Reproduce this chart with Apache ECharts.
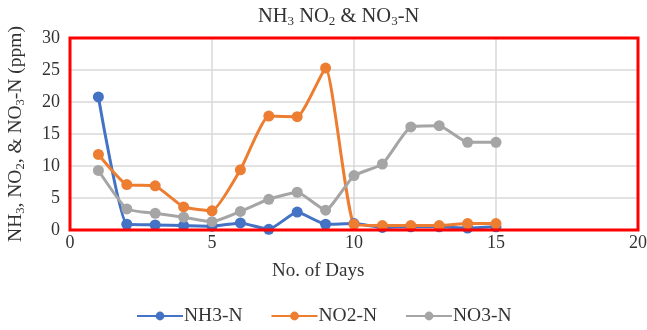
<!DOCTYPE html>
<html><head><meta charset="utf-8">
<script src="https://cdn.jsdelivr.net/npm/echarts@6/dist/echarts.min.js"></script>
<style>html,body{margin:0;padding:0;background:#fff}#c{width:647px;height:330px}</style>
</head><body><div id="c"></div>
<script>
const days = [1,2,3,4,5,6,7,8,9,10,11,12,13,14,15];
const nh3 = [20.8,0.9,0.8,0.7,0.6,1.1,0.1,2.8,0.9,1.0,0.4,0.5,0.5,0.3,0.5];
const no2 = [11.8,7.1,6.9,3.6,3.0,9.4,17.8,17.7,25.3,0.9,0.7,0.7,0.7,1.0,1.0];
const no3 = [9.3,3.3,2.6,2.0,1.3,2.9,4.8,5.9,3.1,8.5,10.3,16.1,16.3,13.7,13.7];
const seriesNames = ['NH3-N','NO2-N','NO3-N'];
const colors = ['#4472C4','#ED7D31','#A5A5A5'];
const FONT = '"Liberation Serif", "DejaVu Serif", serif';

const chart = echarts.init(document.getElementById('c'));
function mk(name, vals, color){
  return {
    name, type:'line', data: days.map((d,i)=>[d, vals[i]]),
    smooth: 0.15, symbol:'circle', symbolSize: 11,
    lineStyle:{color, width:3}, itemStyle:{color},
    emphasis:{disabled:true}, z:3
  };
}
chart.setOption({
  animation:false,
  grid:{left:70, right:9, top:38, bottom:100, show:false, containLabel:false, outerBoundsMode:'none'},
  xAxis:{type:'value', min:0, max:20, interval:5,
    axisLine:{show:false}, axisTick:{show:false},
    splitLine:{show:true, showMinLine:false, showMaxLine:false, lineStyle:{color:'#d9d9d9', width:1.5}},
    axisLabel:{fontFamily:FONT, fontSize:18, color:'#333', margin:4}},
  yAxis:{type:'value', min:0, max:30, interval:5,
    axisLine:{show:false}, axisTick:{show:false},
    splitLine:{show:true, showMinLine:false, showMaxLine:false, lineStyle:{color:'#d9d9d9', width:1.5}},
    axisLabel:{fontFamily:FONT, fontSize:18, color:'#333', margin:10},
    name:'{a|NH}{s|3}{a|, NO}{s|2}{a|, & NO}{s|3}{a|-N (ppm)}',
    nameLocation:'middle', nameGap:43, nameRotate:90,
    nameTextStyle:{rich:{a:{fontFamily:FONT, fontSize:19.5, color:'#333'}, s:{fontFamily:FONT, fontSize:12.5, color:'#333', padding:[10,0,0,0]}}}
  },
  legend:{top:306, left:136, padding:0, itemWidth:46, itemHeight:11, itemGap:28,
    data:seriesNames, textStyle:{fontFamily:FONT, fontSize:19.5, color:'#333', padding:[0,0,0,-4]}},
  graphic:[
    {type:'text', x:258, y:5, style:{
      text:'{a|NH}{s|3}{a| NO}{s|2}{a| & NO}{s|3}{a|-N}',
      rich:{a:{fontFamily:FONT, fontSize:20.5, fill:'#333'}, s:{fontFamily:FONT, fontSize:13, fill:'#333', padding:[10,0,0,0]}}
    }},
    {type:'text', x:272, y:262, style:{text:'No. of Days', fontFamily:FONT, fontSize:19, fill:'#333'}},
    {type:'rect', z:100, silent:true,
      shape:{x:70, y:38, width:568, height:192}, style:{fill:'none', stroke:'#ff0000', lineWidth:3}}
  ],
  series:[mk(seriesNames[0], nh3, colors[0]), mk(seriesNames[1], no2, colors[1]), mk(seriesNames[2], no3, colors[2])]
});
</script></body></html>
